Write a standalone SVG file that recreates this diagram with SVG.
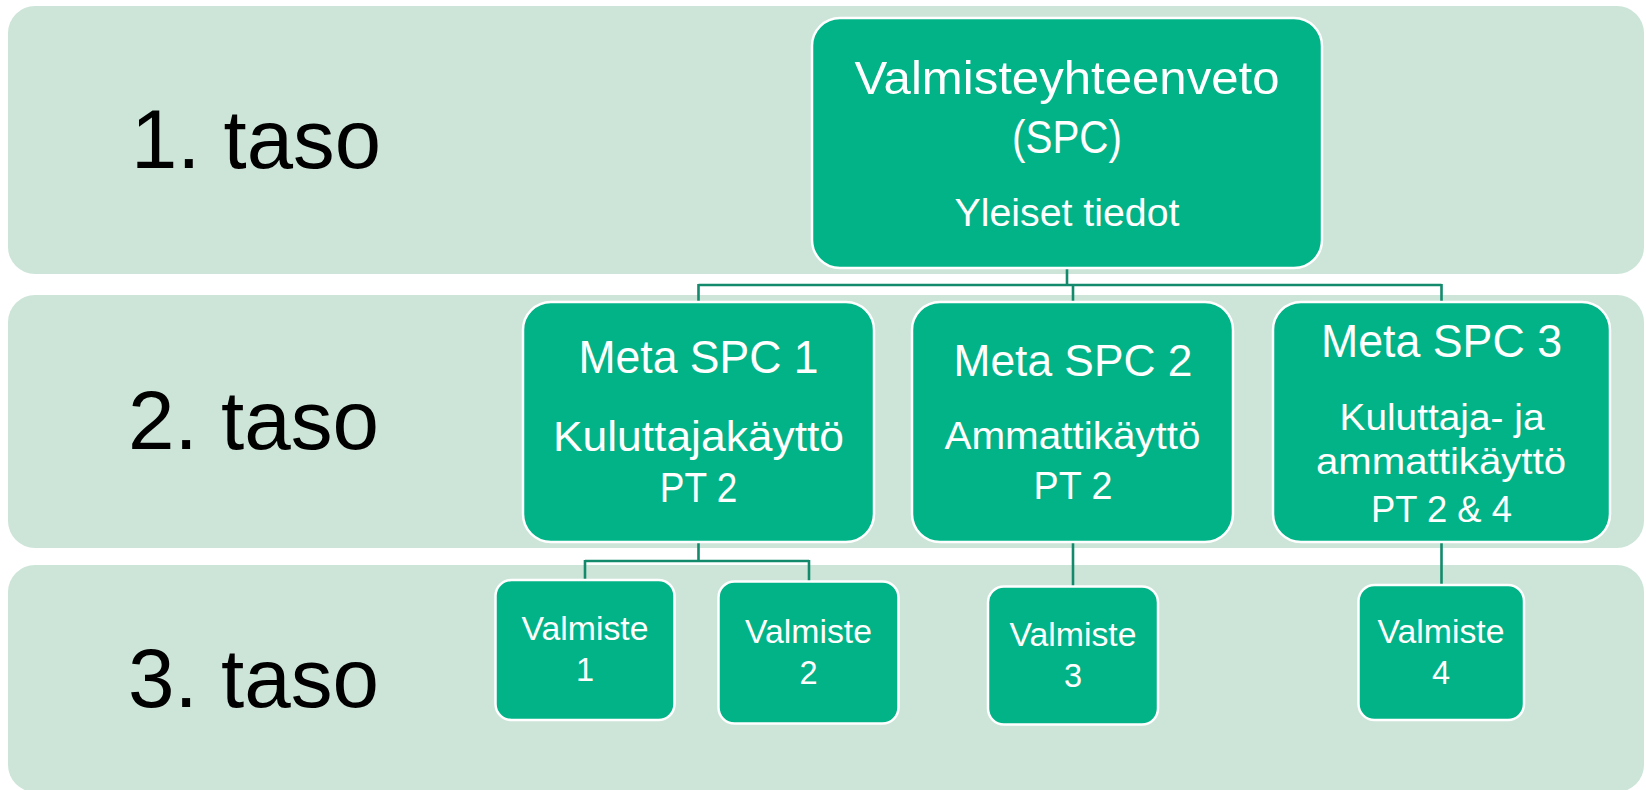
<svg xmlns="http://www.w3.org/2000/svg" width="1646" height="790" viewBox="0 0 1646 790">
<style>
.band{fill:#CCE5D8}
.node{fill:#02B388;stroke:#FFFFFF;stroke-width:2.5}
.conn{fill:none;stroke:#138A6C;stroke-width:2.6}
.lvl{font-family:"Liberation Sans",Arial,sans-serif;font-size:84px;fill:#000000}
.t{font-family:"Liberation Sans",Arial,sans-serif;fill:#FFFFFF;text-anchor:middle}
</style>
<rect width="1646" height="790" fill="#FFFFFF"/>
<g id="bands">
<rect class="band" x="8" y="6" width="1636" height="268" rx="27"/>
<rect class="band" x="8" y="295" width="1636" height="253" rx="27"/>
<rect class="band" x="8" y="565" width="1636" height="227" rx="27"/>
</g>
<g id="level-labels">
<text class="lvl" x="131" y="167.5" textLength="250" lengthAdjust="spacingAndGlyphs">1. taso</text>
<text class="lvl" x="128" y="449" textLength="251" lengthAdjust="spacingAndGlyphs">2. taso</text>
<text class="lvl" x="128" y="706.5" textLength="251" lengthAdjust="spacingAndGlyphs">3. taso</text>
</g>
<g id="connectors">
<path class="conn" d="M1067 268 V285 M698.5 285 H1441.5 M698.5 284 V302 M1073 285 V302 M1441.5 284 V302"/>
<path class="conn" d="M698.5 542 V561 M585 561 H809 M585 560 V580 M809 560 V581.5"/>
<path class="conn" d="M1073 542 V586.5"/>
<path class="conn" d="M1441.5 542 V585"/>
</g>
<g id="node-spc">
<rect class="node" x="812" y="18" width="510" height="250" rx="28"/>
<text class="t" x="1067" y="94" font-size="47" textLength="425" lengthAdjust="spacingAndGlyphs">Valmisteyhteenveto</text>
<text class="t" x="1067" y="152.5" font-size="47" textLength="110" lengthAdjust="spacingAndGlyphs">(SPC)</text>
<text class="t" x="1067" y="226" font-size="38" textLength="225" lengthAdjust="spacingAndGlyphs">Yleiset tiedot</text>
</g>
<g id="node-meta1">
<rect class="node" x="523" y="302" width="351" height="240" rx="28"/>
<text class="t" x="698.5" y="373" font-size="47" textLength="240" lengthAdjust="spacingAndGlyphs">Meta SPC 1</text>
<text class="t" x="698.5" y="450.5" font-size="42" textLength="291" lengthAdjust="spacingAndGlyphs">Kuluttajakäyttö</text>
<text class="t" x="698.5" y="501.5" font-size="42" textLength="77.5" lengthAdjust="spacingAndGlyphs">PT 2</text>
</g>
<g id="node-meta2">
<rect class="node" x="912" y="302" width="321" height="240" rx="28"/>
<text class="t" x="1073" y="375.5" font-size="45" textLength="239" lengthAdjust="spacingAndGlyphs">Meta SPC 2</text>
<text class="t" x="1072.5" y="449.3" font-size="38" textLength="256" lengthAdjust="spacingAndGlyphs">Ammattikäyttö</text>
<text class="t" x="1073" y="499.3" font-size="38" textLength="79" lengthAdjust="spacingAndGlyphs">PT 2</text>
</g>
<g id="node-meta3">
<rect class="node" x="1273" y="302" width="337" height="240" rx="28"/>
<text class="t" x="1441.5" y="356.7" font-size="47" textLength="241" lengthAdjust="spacingAndGlyphs">Meta SPC 3</text>
<text class="t" x="1442" y="429.5" font-size="37" textLength="205" lengthAdjust="spacingAndGlyphs">Kuluttaja- ja</text>
<text class="t" x="1441" y="474" font-size="37" textLength="250" lengthAdjust="spacingAndGlyphs">ammattikäyttö</text>
<text class="t" x="1441.5" y="522" font-size="37" textLength="141" lengthAdjust="spacingAndGlyphs">PT 2 &amp; 4</text>
</g>
<g id="node-valmiste1">
<rect class="node" x="495.5" y="580" width="179" height="140" rx="16"/>
<text class="t" x="585" y="640" font-size="32.5" textLength="127" lengthAdjust="spacingAndGlyphs">Valmiste</text>
<text class="t" x="585" y="681" font-size="32.5">1</text>
</g>
<g id="node-valmiste2">
<rect class="node" x="718.5" y="581.5" width="180" height="142" rx="16"/>
<text class="t" x="808.5" y="643.3" font-size="32.5" textLength="127" lengthAdjust="spacingAndGlyphs">Valmiste</text>
<text class="t" x="808.5" y="684" font-size="32.5">2</text>
</g>
<g id="node-valmiste3">
<rect class="node" x="988" y="586.5" width="170" height="138" rx="16"/>
<text class="t" x="1073" y="646" font-size="32.5" textLength="127" lengthAdjust="spacingAndGlyphs">Valmiste</text>
<text class="t" x="1073" y="686.7" font-size="32.5">3</text>
</g>
<g id="node-valmiste4">
<rect class="node" x="1358.5" y="585" width="165.5" height="135" rx="16"/>
<text class="t" x="1441" y="642.7" font-size="32.5" textLength="127" lengthAdjust="spacingAndGlyphs">Valmiste</text>
<text class="t" x="1441" y="684" font-size="32.5">4</text>
</g>
</svg>
